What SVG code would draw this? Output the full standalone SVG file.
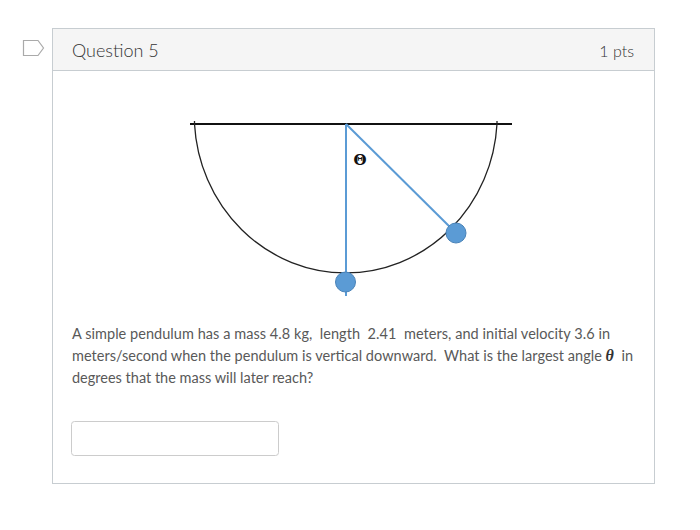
<svg xmlns="http://www.w3.org/2000/svg" width="700" height="530" viewBox="0 0 700 530">
<style>
.t{font-family:Lato,"Open Sans",sans-serif;fill:#595959;font-size:14.5px;white-space:pre}
.h{font-family:Lato,"Open Sans",sans-serif;fill:#333;font-size:18px;font-weight:300}
.rope{stroke:#5b9bd5;stroke-width:2;fill:none}
.bob{fill:#5b9bd5;stroke:#4a83b8;stroke-width:1}
</style>
<rect width="700" height="530" fill="#fff"/>
<g id="tag"><path d="M23.5 40.5 H38 L43.5 48 L38 55.5 H23.5 Z" fill="#fff" stroke="#aaa" stroke-width="1.2"/></g>
<g id="card">
<rect x="52.5" y="28.5" width="602" height="455" fill="#fff" stroke="#c7cdd1"/>
<rect x="53" y="29" width="601" height="41" fill="#f5f5f5"/>
<line x1="53" y1="70.5" x2="654" y2="70.5" stroke="#c7cdd1"/>
<text class="h" x="72" y="57">Question 5</text>
<text class="h" x="634" y="57" text-anchor="end" style="font-size:16px">1 pts</text>
</g>
<g id="diagram">
<line x1="190" y1="124" x2="512" y2="124" stroke="#111" stroke-width="2"/>
<path d="M194.5 121 V124 A151.5 158 0 0 0 497 124 V121" fill="none" stroke="#222" stroke-width="1.3"/>
<line class="rope" x1="346" y1="124" x2="346" y2="296"/>
<line class="rope" x1="346" y1="124" x2="456" y2="233"/>
<circle class="bob" cx="345.5" cy="282" r="10"/>
<circle class="bob" cx="456" cy="233" r="10"/>
<text x="360" y="165" font-family="DejaVu Serif,serif" font-weight="bold" font-size="15" fill="#111" text-anchor="middle">Θ</text>
</g>
<g id="question">
<text class="t" x="72" y="339" textLength="538" lengthAdjust="spacing" xml:space="preserve">A simple pendulum has a mass 4.8 kg,  length  2.41  meters, and initial velocity 3.6 in</text>
<text class="t" x="72" y="361" textLength="561" lengthAdjust="spacing" xml:space="preserve">meters/second when the pendulum is vertical downward.  What is the largest angle <tspan font-family="Liberation Serif,serif" font-style="italic" font-weight="bold" fill="#333" font-size="16">θ</tspan>  in</text>
<text class="t" x="72" y="383" xml:space="preserve">degrees that the mass will later reach?</text>
</g>
<g id="answer"><rect x="71.5" y="421.5" width="207" height="34" rx="3" fill="#fff" stroke="#ccc"/></g>
</svg>
